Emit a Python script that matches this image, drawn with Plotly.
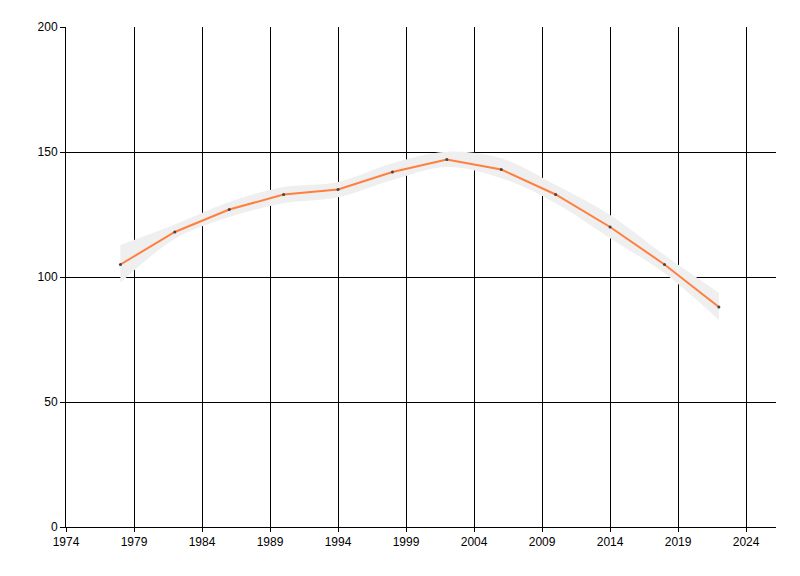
import plotly.graph_objects as go

years = [1978, 1982, 1986, 1990, 1994, 1998, 2002, 2006, 2010, 2014, 2018, 2022]
values = [105, 118, 127, 133, 135, 142, 147, 143, 133, 120, 105, 88]
lower = [97.7, 115.2, 124.0, 129.5, 131.9, 138.8, 144.0, 139.5, 129.5, 115.5, 101.5, 82.8]
upper = [112.8, 121.0, 130.0, 136.0, 138.0, 145.5, 150.1, 147.5, 136.8, 124.8, 108.8, 93.7]

x_ticks = [1974, 1979, 1984, 1989, 1994, 1999, 2004, 2009, 2014, 2019, 2024]
y_ticks = [0, 50, 100, 150, 200]

fig = go.Figure()
fig.add_trace(go.Scatter(x=years, y=lower, mode="lines",
                         line=dict(width=0, shape="spline", color="#efefef"),
                         showlegend=False, hoverinfo="skip"))
fig.add_trace(go.Scatter(x=years, y=upper, mode="lines", fill="tonexty",
                         fillcolor="#efefef",
                         line=dict(width=0, shape="spline", color="#efefef"),
                         showlegend=False, hoverinfo="skip"))
fig.add_trace(go.Scatter(x=years, y=values, mode="lines+markers",
                         line=dict(color="#ff7f3f", width=2),
                         marker=dict(color="#444444", size=3),
                         showlegend=False))

fig.update_layout(
    width=800, height=576,
    margin=dict(l=58, r=32, t=19, b=57),
    paper_bgcolor="white", plot_bgcolor="white",
    font=dict(family="Liberation Sans, Arial, sans-serif", size=12, color="black"),
    xaxis=dict(range=[1974, 2026.2], tickvals=x_ticks, showgrid=True,
               gridcolor="black", gridwidth=1, zeroline=False,
               showline=True, linecolor="black", linewidth=1,
               ticks="outside", ticklen=4, tickcolor="black"),
    yaxis=dict(range=[0, 200], tickvals=y_ticks, showgrid=True,
               gridcolor="black", gridwidth=1, zeroline=False,
               showline=True, linecolor="black", linewidth=1,
               ticks="outside", ticklen=5, tickcolor="black"),
)

fig.write_html("out.html")
